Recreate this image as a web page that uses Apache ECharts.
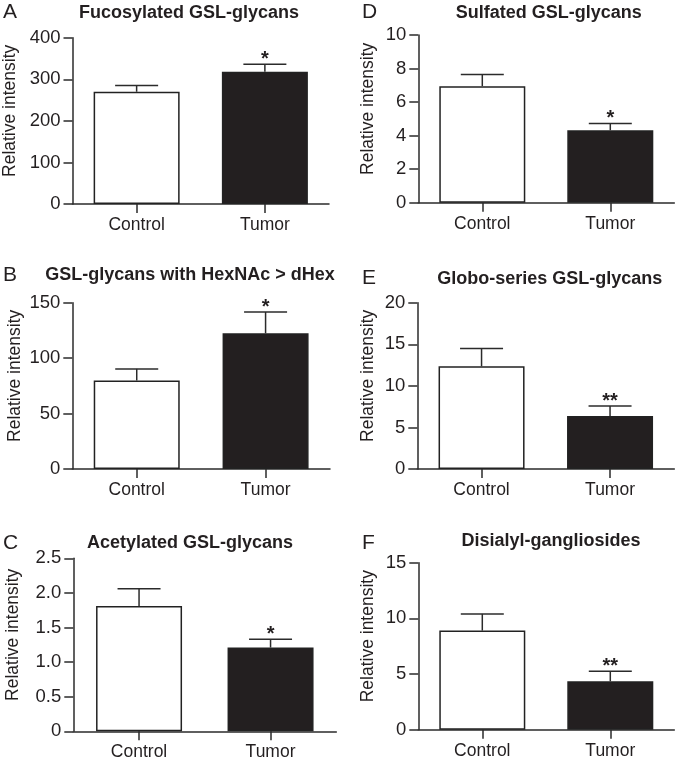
<!DOCTYPE html>
<html>
<head>
<meta charset="utf-8">
<script src="https://cdn.jsdelivr.net/npm/echarts@6/dist/echarts.min.js"></script>
<style>
html,body{margin:0;padding:0;background:#fff;}
#chart{width:676px;height:765px;}
</style>
</head>
<body>
<div id="chart"></div>
<script>
// ---- data ----
const categories = ['Control', 'Tumor'];
const panelLetters = ['A', 'B', 'C', 'D', 'E', 'F'];
const panelTitles = ['Fucosylated GSL-glycans', 'GSL-glycans with HexNAc > dHex', 'Acetylated GSL-glycans',
                     'Sulfated GSL-glycans', 'Globo-series GSL-glycans', 'Disialyl-gangliosides'];
const fucosylatedMean = [270, 318];
const fucosylatedErr = [15, 18];
const hexnacMean = [79.8, 122.4];
const hexnacErr = [10.5, 19.2];
const acetylatedMean = [1.81, 1.21];
const acetylatedErr = [0.25, 0.12];
const sulfatedMean = [6.95, 4.32];
const sulfatedErr = [0.7, 0.4];
const globoMean = [12.35, 6.37];
const globoErr = [2.15, 1.2];
const disialylMean = [8.9, 4.35];
const disialylErr = [1.5, 0.9];
const significance = [['', '*'], ['', '*'], ['', '*'], ['', '*'], ['', '**'], ['', '**']];
const yMax = [400, 150, 2.5, 10, 20, 15];
const yInterval = [100, 50, 0.5, 2, 5, 5];
const yAxisName = 'Relative intensity';

const means = [fucosylatedMean, hexnacMean, acetylatedMean, sulfatedMean, globoMean, disialylMean];
const errs = [fucosylatedErr, hexnacErr, acetylatedErr, sulfatedErr, globoErr, disialylErr];

// ---- layout ----
const grids = [
  {left: 72.3, top: 37.7, width: 256.7, height: 166.3},
  {left: 72.3, top: 302.7, width: 257.7, height: 166.3},
  {left: 73.3, top: 558.3, width: 263, height: 173},
  {left: 418.3, top: 35, width: 256, height: 167.7},
  {left: 417.3, top: 302.7, width: 257, height: 166.3},
  {left: 418.3, top: 562.7, width: 256, height: 167}
];
const nameGaps = [53.5, 48.5, 51.5, 41.5, 40.5, 41.5];
const titlePos = [[189, 13.5], [190, 275.5], [190, 543], [548.7, 13.5], [549.7, 279], [551, 541.5]];
const letterPos = [[3, 12.5], [3, 275], [3, 543.5], [362, 12.5], [362, 278.5], [362, 543]];

const FONT = '"Liberation Sans", Arial, Helvetica, sans-serif';
const INK = '#231f20';
const AXIS = '#2b2b2b';

const chart = echarts.init(document.getElementById('chart'), null, {renderer: 'canvas'});

const xAxes = [], yAxes = [], series = [], graphics = [];
for (let i = 0; i < 6; i++) {
  xAxes.push({
    type: 'category', gridIndex: i, data: categories,
    axisLine: {show: true, lineStyle: {color: AXIS, width: 1.5}},
    axisTick: {show: true, alignWithLabel: true, length: 9, lineStyle: {color: AXIS, width: 1.5}},
    axisLabel: {color: INK, fontFamily: FONT, fontSize: 17.5, margin: 12}
  });
  const fmt = yInterval[i] < 1 ? (v => v === 0 ? '0' : v.toFixed(1)) : (v => String(v));
  yAxes.push({
    type: 'value', gridIndex: i, min: 0, max: yMax[i], interval: yInterval[i],
    name: yAxisName, nameLocation: 'middle', nameGap: nameGaps[i],
    nameTextStyle: {color: INK, fontFamily: FONT, fontSize: 17.5, padding: [0, 0, 0, 20]},
    axisLine: {show: true, lineStyle: {color: AXIS, width: 1.5}},
    axisTick: {show: true, length: 9, lineStyle: {color: AXIS, width: 1.5}},
    splitLine: {show: false},
    axisLabel: {color: INK, fontFamily: FONT, fontSize: 18.5, margin: 12, formatter: fmt}
  });
  series.push({
    type: 'bar', xAxisIndex: i, yAxisIndex: i, barWidth: 86,
    data: means[i].map((v, k) => ({
      value: v,
      itemStyle: {color: k === 0 ? '#ffffff' : INK, borderColor: '#222', borderWidth: 1.5}
    })),
    silent: true, animation: false
  });
  const stars = significance[i];
  series.push({
    type: 'custom', xAxisIndex: i, yAxisIndex: i, animation: false, silent: true, z: 3,
    data: means[i].map((v, k) => [k, v, errs[i][k]]),
    renderItem: function (params, api) {
      const idx = api.value(0), m = api.value(1), e = api.value(2);
      const base = api.coord([idx, m]);
      const top = api.coord([idx, m + e]);
      const half = 21.5;
      const st = {stroke: AXIS, lineWidth: 1.5};
      const children = [
        {type: 'line', shape: {x1: base[0], y1: base[1], x2: top[0], y2: top[1]}, style: st},
        {type: 'line', shape: {x1: top[0] - half, y1: top[1], x2: top[0] + half, y2: top[1]}, style: st}
      ];
      const s = stars[idx];
      if (s) {
        children.push({type: 'text', style: {x: top[0], y: top[1] - 5, text: s, fill: INK,
          font: 'bold 20px ' + FONT, align: 'center', verticalAlign: 'middle'}});
      }
      return {type: 'group', children: children};
    }
  });
  graphics.push({type: 'text', x: titlePos[i][0], y: titlePos[i][1],
    style: {text: panelTitles[i], fill: INK, font: 'bold 18px ' + FONT, align: 'center', verticalAlign: 'middle'}});
  graphics.push({type: 'text', x: letterPos[i][0], y: letterPos[i][1],
    style: {text: panelLetters[i], fill: INK, font: '21px ' + FONT, align: 'left', verticalAlign: 'middle'}});
}

chart.setOption({
  animation: false,
  backgroundColor: '#ffffff',
  grid: grids.map(g => Object.assign({containLabel: false}, g)),
  xAxis: xAxes,
  yAxis: yAxes,
  series: series,
  graphic: graphics
});
</script>
</body>
</html>
